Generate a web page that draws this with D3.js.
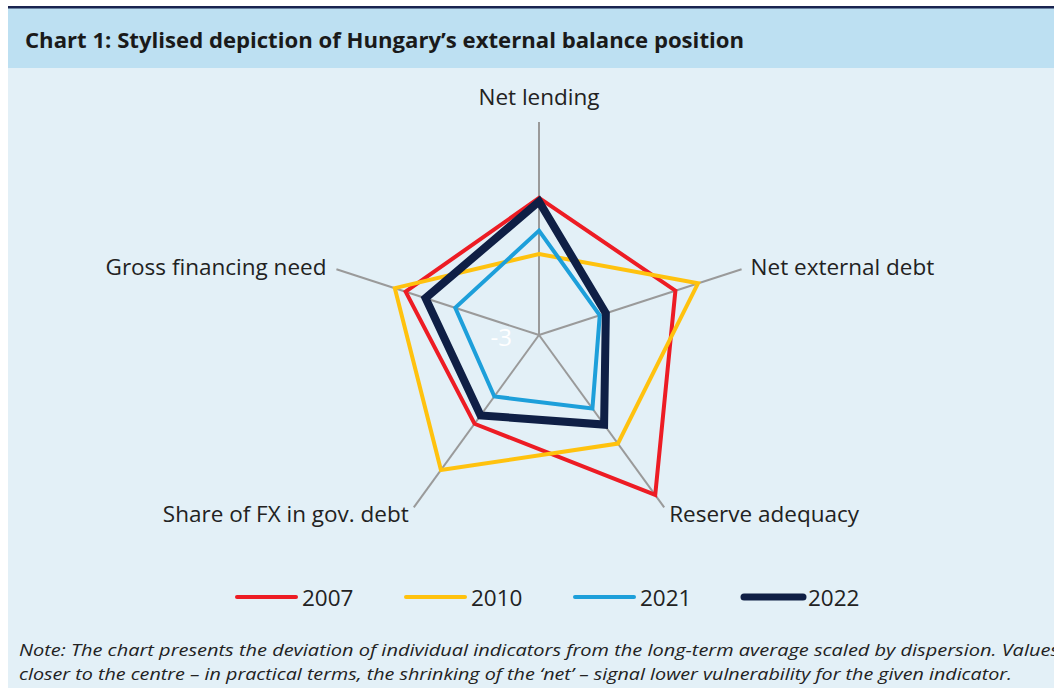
<!DOCTYPE html>
<html>
<head>
<meta charset="utf-8">
<script src="https://cdn.jsdelivr.net/npm/d3@7"></script>
<style>
  body { margin: 0; background: #fff; }
  svg { display: block; font-family: "Open Sans", sans-serif; }
</style>
</head>
<body>
<svg id="chart"></svg>
<script>
// indicators, clockwise from the top
const indicators = ["Net lending", "Net external debt", "Reserve adequacy", "Share of FX in gov. debt", "Gross financing need"];
const years = ["2007", "2010", "2021", "2022"];
// standardised deviations, same order as indicators
const v2007 = [0.86, 1.04, 2.57, 0.09, 0.95];
const v2010 = [-0.72, 1.71, 0.78, 1.70, 1.27];
const v2021 = [-0.06, -1.20, -0.44, -0.86, -0.52];
const v2022 = [0.76, -1.02, 0.12, -0.20, 0.36];
const scaleMin = -3, scaleMax = 3;

const colors = {"2007": "#ed1c24", "2010": "#ffc20e", "2021": "#1d9fda", "2022": "#0f1f45"};
const widths = {"2007": 4, "2010": 4, "2021": 4, "2022": 8};

let vis = {};
vis.width = 1054;
vis.height = 688;
vis.cx = 539;
vis.cy = 335;
vis.R = 213;

vis.svg = d3.select("#chart")
  .attr("width", vis.width)
  .attr("height", vis.height);

// panel background
vis.svg.append("rect").attr("x", 8).attr("y", 6).attr("width", vis.width - 8).attr("height", vis.height - 6).attr("fill", "#e3f0f7");
vis.svg.append("rect").attr("x", 8).attr("y", 8).attr("width", vis.width - 8).attr("height", 60).attr("fill", "#bde0f2");
vis.svg.append("rect").attr("x", 8).attr("y", 6).attr("width", vis.width - 8).attr("height", 2.5).attr("fill", "#1a2450");

vis.svg.append("text")
  .attr("x", 25).attr("y", 48)
  .attr("font-size", 22).attr("font-weight", "bold").attr("fill", "#1a1a1a")
  .attr("textLength", 719).attr("lengthAdjust", "spacingAndGlyphs")
  .text("Chart 1: Stylised depiction of Hungary’s external balance position");

//----------------------------SCALES----------------------------//
const rScale = d3.scaleLinear().domain([scaleMin, scaleMax]).range([0, vis.R]);
const angle = d3.scalePoint().domain(indicators).range([0, 2 * Math.PI * (indicators.length - 1) / indicators.length]);

const pt = (ind, r) => {
  const a = angle(ind);
  return [vis.cx + r * Math.sin(a), vis.cy - r * Math.cos(a)];
};

vis.chart = vis.svg.append("g");

// spokes
vis.chart.selectAll(".spoke")
  .data(indicators)
  .enter()
  .append("line")
  .attr("class", "spoke")
  .attr("x1", vis.cx).attr("y1", vis.cy)
  .attr("x2", d => pt(d, rScale(scaleMax))[0])
  .attr("y2", d => pt(d, rScale(scaleMax))[1])
  .attr("stroke", "#9a9a9a").attr("stroke-width", 2);

// category labels
const labelPos = {
  "Net lending": {dx: 0, dy: -17, anchor: "middle"},
  "Net external debt": {dx: 9, dy: 6, anchor: "start"},
  "Reserve adequacy": {dx: 5, dy: 15, anchor: "start"},
  "Share of FX in gov. debt": {dx: -5, dy: 15, anchor: "end"},
  "Gross financing need": {dx: -10, dy: 6, anchor: "end"}
};
vis.chart.selectAll(".cat")
  .data(indicators)
  .enter()
  .append("text")
  .attr("class", "cat")
  .attr("x", d => pt(d, rScale(scaleMax))[0] + labelPos[d].dx)
  .attr("y", d => pt(d, rScale(scaleMax))[1] + labelPos[d].dy)
  .attr("text-anchor", d => labelPos[d].anchor)
  .attr("font-size", 22.5).attr("fill", "#222")
  .text(d => d);

//----------------------------LINES-----------------------------//
const slices = [v2007, v2010, v2021, v2022].map((vals, i) => ({
  id: years[i],
  values: indicators.map((ind, j) => ({ind: ind, value: vals[j]}))
}));

const line = d3.line()
  .x(d => pt(d.ind, rScale(d.value))[0])
  .y(d => pt(d.ind, rScale(d.value))[1])
  .curve(d3.curveLinearClosed);

vis.chart.selectAll(".series")
  .data(slices)
  .enter()
  .append("path")
  .attr("class", "series")
  .attr("d", d => line(d.values))
  .attr("fill", "none")
  .attr("stroke", d => colors[d.id])
  .attr("stroke-width", d => widths[d.id])
  .attr("stroke-linejoin", "miter");

// radial axis minimum
vis.chart.append("text")
  .attr("x", vis.cx - 27).attr("y", vis.cy + 11)
  .attr("text-anchor", "end")
  .attr("font-size", 24).attr("fill", "#fff")
  .text(scaleMin);

//----------------------------LEGEND----------------------------//
const legendX = d3.scalePoint().domain(years).range([237, 744]);
const legend = vis.svg.selectAll(".legend")
  .data(years)
  .enter()
  .append("g")
  .attr("class", "legend")
  .attr("transform", d => `translate(${legendX(d)},597)`);

legend.append("line")
  .attr("x1", 0).attr("x2", 59)
  .attr("stroke", d => colors[d])
  .attr("stroke-width", d => d === "2022" ? 7 : 4)
  .attr("stroke-linecap", "round");

legend.append("text")
  .attr("x", d => d === "2022" ? 64 : 65).attr("y", 9)
  .attr("font-size", 22.5).attr("fill", "#222")
  .text(d => d);

//-----------------------------NOTE-----------------------------//
const note = [
  "Note: The chart presents the deviation of individual indicators from the long-term average scaled by dispersion. Values",
  "closer to the centre – in practical terms, the shrinking of the ‘net’ – signal lower vulnerability for the given indicator."
];
const noteLen = [1040, 993];
vis.svg.selectAll(".note")
  .data(note)
  .enter()
  .append("text")
  .attr("class", "note")
  .attr("x", 19)
  .attr("y", (d, i) => 656 + i * 24)
  .attr("font-size", 17).attr("font-style", "italic").attr("fill", "#222")
  .attr("textLength", (d, i) => noteLen[i]).attr("lengthAdjust", "spacingAndGlyphs")
  .text(d => d);
</script>
</body>
</html>
